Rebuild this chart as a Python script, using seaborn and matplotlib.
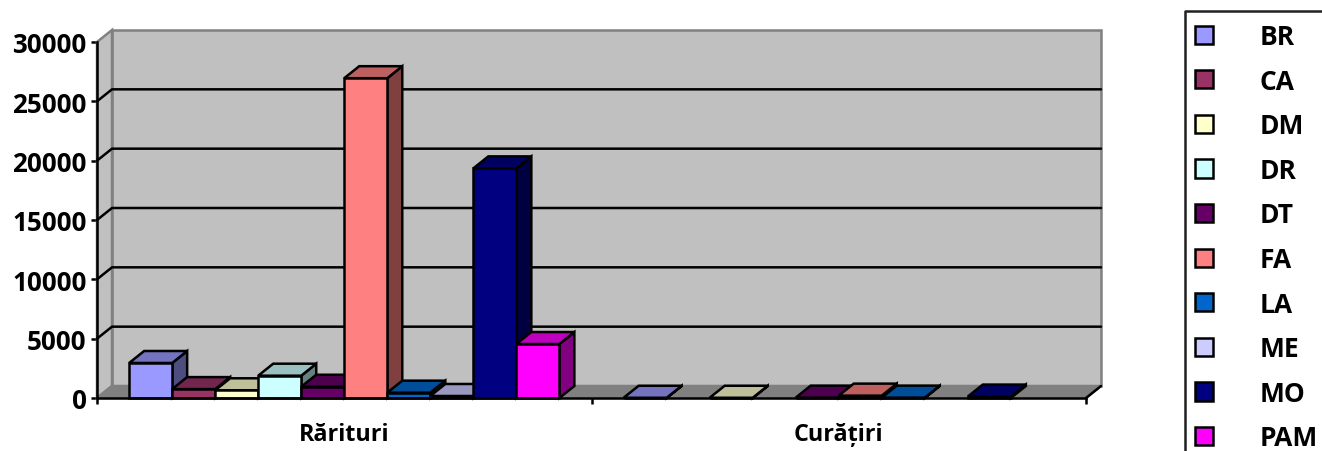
import matplotlib

matplotlib.use("Agg")
import matplotlib.pyplot as plt
import matplotlib.colors as mcolors
from matplotlib.patches import Polygon
import numpy as np
import pandas as pd
import seaborn as sns

categories = ["Rărituri", "Curățiri"]
species = ["BR", "CA", "DM", "DR", "DT", "FA", "LA", "ME", "MO", "PAM"]
rarituri = [2950, 750, 650, 1880, 950, 26950, 450, 170, 19350, 4550]
curatiri = [20, None, 20, None, 30, 200, 30, None, 120, None]
colors = ["#9999FF", "#993366", "#FFFFCC", "#CCFFFF", "#660066",
          "#FF8080", "#0066CC", "#CCCCFF", "#000080", "#FF00FF"]
yticks = [0, 5000, 10000, 15000, 20000, 25000, 30000]

W, H = 1322, 452
LEFT, RIGHT, TOP, BOTTOM = 97, 1086, 43, 399
DEPTH_X, DEPTH_Y = 15, 12  # 3d offset in pixels
LW = 1.8

df = pd.DataFrame(
    {
        "cat": [categories[0]] * len(species) + [categories[1]] * len(species),
        "species": species * 2,
        "value": rarituri + curatiri,
    }
).dropna()

sns.set_theme(style="ticks")
plt.rcParams["font.family"] = ["Open Sans", "DejaVu Sans"]
plt.rcParams["font.weight"] = "bold"
plt.rcParams["font.size"] = 17

fig = plt.figure(figsize=(W / 100, H / 100), dpi=100)
ax = fig.add_axes(
    [LEFT / W, 1 - BOTTOM / H, (RIGHT - LEFT) / W, (BOTTOM - TOP) / H]
)
sns.barplot(
    data=df,
    x="cat",
    y="value",
    hue="species",
    order=categories,
    hue_order=species,
    palette=colors,
    saturation=1,
    width=0.87,
    gap=0,
    errorbar=None,
    edgecolor="black",
    linewidth=LW,
    ax=ax,
)
ax.set_xlim(-0.5, 1.5)
ax.set_ylim(0, 30000)
ax.patch.set_alpha(0)

# depth in data units
dx = DEPTH_X * 2 / (RIGHT - LEFT)
dy = DEPTH_Y * 30000 / (BOTTOM - TOP)
x0, x1 = ax.get_xlim()
y_top = ax.get_ylim()[1]


def face(points, color, edge="black", z=1):
    ax.add_patch(
        Polygon(points, closed=True, facecolor=color, edgecolor=edge,
                linewidth=LW, clip_on=False, zorder=z, joinstyle="miter")
    )


# walls and floor
face([(x0 + dx, dy), (x1 + dx, dy), (x1 + dx, y_top + dy), (x0 + dx, y_top + dy)],
     "#C0C0C0", "#808080", 0.5)
face([(x0, 0), (x0 + dx, dy), (x0 + dx, y_top + dy), (x0, y_top)],
     "#C0C0C0", "#808080", 0.6)
face([(x0, 0), (x1, 0), (x1 + dx, dy), (x0 + dx, dy)], "#808080", "#808080", 0.7)

for tick in yticks[1:-1]:
    ax.plot([x0, x0 + dx, x1 + dx], [tick, tick + dy, tick + dy],
            color="black", lw=LW, clip_on=False, zorder=1)
ax.plot([x1, x1 + dx], [0, dy], color="black", lw=LW, clip_on=False, zorder=1)

# extrude the bars, left to right so that the next front hides the side
bars = [p for c in ax.containers for p in c if np.isfinite(p.get_height())]
bars.sort(key=lambda p: p.get_x())
for i, bar in enumerate(bars):
    left = bar.get_x()
    right = left + bar.get_width()
    top = bar.get_height()
    rgb = np.array(mcolors.to_rgb(bar.get_facecolor()))
    z = 2 + i
    face([(right, 0), (right + dx, dy), (right + dx, top + dy), (right, top)],
         tuple(rgb * 0.5), z=z)
    face([(left, top), (right, top), (right + dx, top + dy), (left + dx, top + dy)],
         tuple(rgb * 0.75), z=z + 0.1)
    bar.set_zorder(z + 0.2)
    bar.set_clip_on(False)

sns.despine(ax=ax)
for side in ["left", "bottom"]:
    ax.spines[side].set_linewidth(LW)
    ax.spines[side].set_color("black")
    ax.spines[side].set_zorder(100)

ax.set_xlabel("")
ax.set_ylabel("")
ax.set_yticks(yticks)
ax.tick_params(axis="y", length=4.5, width=LW, pad=3, labelsize=18.7, color="black")
ax.set_xticks([0, 1])
ax.set_xticklabels(categories)
ax.set_xticks([-0.5, 0.5, 1.5], minor=True)
ax.tick_params(axis="x", which="major", length=0, pad=17, labelsize=16.8)
ax.tick_params(axis="x", which="minor", length=4.5, width=LW, color="black")
for label in ax.get_xticklabels() + ax.get_yticklabels():
    label.set_fontweight("bold")
    label.set_color("black")

sns.move_legend(
    ax,
    "upper left",
    bbox_to_anchor=(1195 / W, 1 - 24 / H),
    bbox_transform=fig.transFigure,
    title=None,
    frameon=False,
    fontsize=19,
    ncol=1,
    handlelength=0.68,
    handleheight=0.68,
    handletextpad=1.78,
    labelspacing=0.667,
    borderpad=0,
    borderaxespad=0,
)
for text in ax.get_legend().get_texts():
    text.set_fontweight("bold")
    text.set_color("black")

# legend box runs off the right and bottom edge of the picture
fig.add_artist(plt.Line2D([1185 / W, 1185 / W, 1], [0, 1 - 12 / H, 1 - 12 / H],
                          color="#202020", lw=LW, transform=fig.transFigure))

fig.savefig("out.png", dpi=100)
